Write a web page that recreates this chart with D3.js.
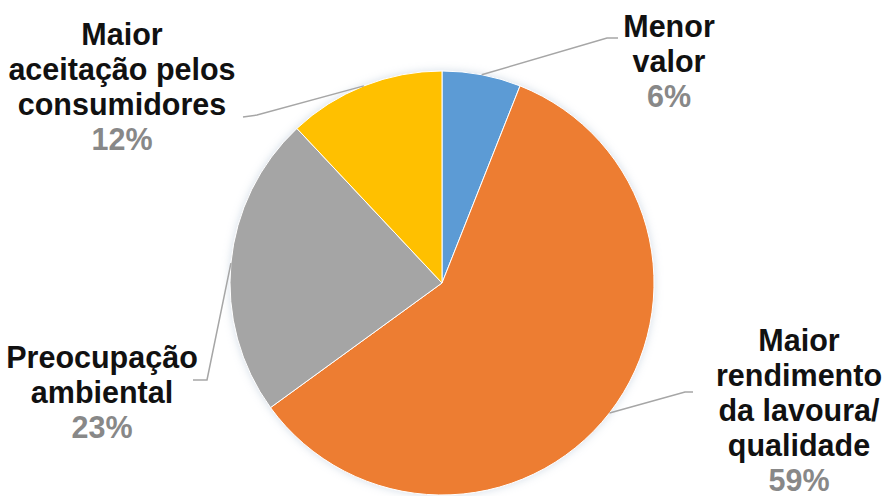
<!DOCTYPE html>
<html>
<head>
<meta charset="utf-8">
<script src="https://cdn.jsdelivr.net/npm/d3@7"></script>
<style>
  html, body { margin: 0; padding: 0; background: #ffffff; }
  svg { display: block; }
  .name { font-family: "Liberation Sans", Arial, sans-serif; font-weight: bold; fill: #111111; }
  .pct { font-family: "Liberation Sans", Arial, sans-serif; font-weight: bold; fill: #888888; }
</style>
</head>
<body>
<svg id="chart" width="883" height="496"></svg>
<script>
// Reasons for the choice, in clockwise order from 12 o'clock
const categories = [
  ["Menor", "valor"],
  ["Maior", "rendimento", "da lavoura/", "qualidade"],
  ["Preocupação", "ambiental"],
  ["Maior", "aceitação pelos", "consumidores"]
];
const values = [6, 59, 23, 12];
const colors = ["#5B9BD5", "#ED7D31", "#A5A5A5", "#FFC000"];

// Label block placement (centre x, first baseline y) and leader elbows
const labelPos = [
  { x: 669, y: 37 },
  { x: 799, y: 351 },
  { x: 102, y: 368 },
  { x: 122, y: 45 }
];
const leaderElbow = [
  [[607, 38], [618, 38]],
  [[685, 392], [693, 392]],
  [[207, 380], [193, 380]],
  [[257, 115], [243, 117]]
];

const cx = 442, cy = 283, R = 212;
const lineH = 35;
const fontSize = 30.5;

const svg = d3.select("#chart");

const defs = svg.append("defs");
const glow = defs.append("filter").attr("id", "pieShadow")
  .attr("x", "-20%").attr("y", "-20%").attr("width", "140%").attr("height", "140%");
glow.append("feGaussianBlur").attr("in", "SourceAlpha").attr("stdDeviation", 4).attr("result", "b");
glow.append("feFlood").attr("flood-color", "#9fb4cc").attr("flood-opacity", 0.45);
glow.append("feComposite").attr("in2", "b").attr("operator", "in").attr("result", "s");
const fm = glow.append("feMerge");
fm.append("feMergeNode").attr("in", "s");
fm.append("feMergeNode").attr("in", "SourceGraphic");

const pie = d3.pie().sort(null).value(d => d)(values);
const arc = d3.arc().innerRadius(0).outerRadius(R);
const edge = d3.arc().innerRadius(R).outerRadius(R);

const g = svg.append("g").attr("transform", `translate(${cx},${cy})`);
g.append("g").attr("filter", "url(#pieShadow)")
  .selectAll("path").data(pie).join("path")
  .attr("d", arc)
  .attr("fill", (d, i) => colors[i])
  .attr("stroke", "#ffffff")
  .attr("stroke-width", 1);

// Leader lines from each slice's rim midpoint to its label
const line = d3.line();
pie.forEach((d, i) => {
  const [ex, ey] = edge.centroid(d);
  const pts = [[cx + ex, cy + ey], ...leaderElbow[i]];
  svg.append("path")
    .attr("d", line(pts))
    .attr("fill", "none")
    .attr("stroke", "#a6a6a6")
    .attr("stroke-width", 1.5);
});

// Labels: category name lines followed by the percentage
const fmt = d3.format(".0f");
categories.forEach((lines, i) => {
  const p = labelPos[i];
  const t = svg.append("g");
  lines.forEach((s, k) => {
    t.append("text").attr("class", "name")
      .attr("x", p.x).attr("y", p.y + k * lineH)
      .attr("text-anchor", "middle").attr("font-size", fontSize)
      .text(s);
  });
  t.append("text").attr("class", "pct")
    .attr("x", p.x).attr("y", p.y + lines.length * lineH)
    .attr("text-anchor", "middle").attr("font-size", fontSize)
    .text(fmt(values[i]) + "%");
});
</script>
</body>
</html>
